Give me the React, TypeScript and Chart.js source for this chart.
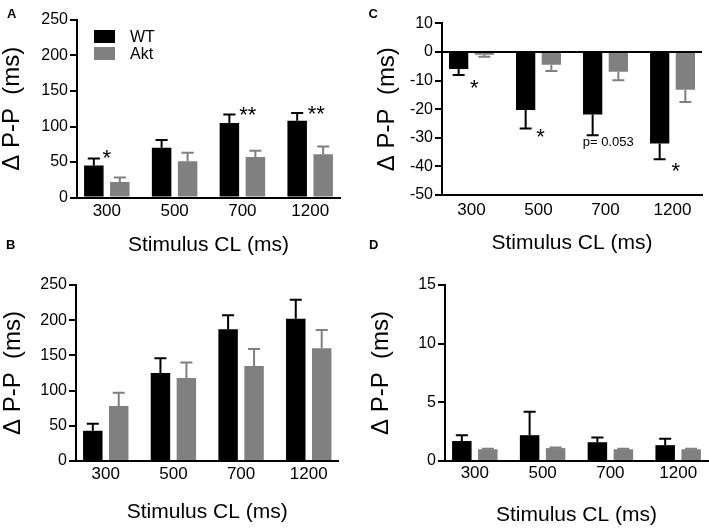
import React, { useEffect, useRef } from "react";
import { Chart, registerables } from "chart.js";

Chart.register(...registerables);

const FONT = '"Liberation Sans", Arial, Helvetica, sans-serif';
Chart.defaults.font.family = FONT;
Chart.defaults.color = "#000";

// ---------- data ----------
const categories = ["300", "500", "700", "1200"];
const seriesNames = ["WT", "Akt"];
const WT_COLOR = "#000000";
const AKT_COLOR = "#808080";
const X_TITLE = "Stimulus CL (ms)";
const Y_TITLE = "Δ P-P  (ms)";

// Panel A
const aWT = [45, 70, 105, 108];
const aWTErr = [10, 11, 12, 11];
const aAkt = [22, 51, 57, 61];
const aAktErr = [6, 12, 9, 11];
const aYTicks = [0, 50, 100, 150, 200, 250];

// Panel B
const bWT = [43, 125, 187, 202];
const bWTErr = [10, 21, 20, 27];
const bAkt = [78, 118, 135, 160];
const bAktErr = [19, 22, 24, 26];
const bYTicks = [0, 50, 100, 150, 200, 250];

// Panel C
const cWT = [-6, -20.3, -21.9, -32];
const cWTErr = [2.1, 6.5, 7.2, 5.5];
const cAkt = [-1.0, -4.5, -6.9, -13.2];
const cAktErr = [0.7, 2.2, 3.0, 4.3];
const cYTicks = [-50, -40, -30, -20, -10, 0, 10];

// Panel D
const dWT = [1.7, 2.2, 1.6, 1.35];
const dWTErr = [0.5, 2.0, 0.4, 0.55];
const dAkt = [1.0, 1.1, 1.0, 1.0];
const dAktErr = [0.05, 0.05, 0.05, 0.05];
const dYTicks = [0, 5, 10, 15];

// significance annotations (data coordinates: category index, value)
const aMarks = [
  { x: 0.0, y: 63, text: "*", star: true },
  { x: 2.08, y: 123, text: "**", star: true },
  { x: 3.09, y: 124.5, text: "**", star: true },
];
const cMarks = [
  { x: 0.04, y: -10.7, text: "*", star: true },
  { x: 1.03, y: -27.8, text: "*", star: true },
  { x: 2.04, y: -31.8, text: "p= 0.053", star: false },
  { x: 3.05, y: -39.7, text: "*", star: true },
];

const X_MIN = -0.44;
const X_MAX = 3.44;

// ---------- plugins ----------
const errorBarPlugin = {
  id: "errorBars",
  afterDatasetsDraw(chart: any) {
    const ctx = chart.ctx;
    const yScale = chart.scales.y;
    chart.data.datasets.forEach((ds: any, di: number) => {
      const errs = ds.errors;
      if (!errs) return;
      const meta = chart.getDatasetMeta(di);
      meta.data.forEach((bar: any, i: number) => {
        const v = ds.data[i].y;
        const e = errs[i];
        const end = v >= 0 ? v + e : v - e;
        const py = yScale.getPixelForValue(end);
        const { x, y, width } = bar.getProps(["x", "y", "width"], true);
        const cap = width * 0.62;
        ctx.save();
        ctx.strokeStyle = ds.backgroundColor;
        ctx.lineWidth = 2;
        ctx.beginPath();
        ctx.moveTo(x, y);
        ctx.lineTo(x, py);
        ctx.moveTo(x - cap / 2, py);
        ctx.lineTo(x + cap / 2, py);
        ctx.stroke();
        ctx.restore();
      });
    });
  },
};

function makeMarksPlugin(items: any[]) {
  return {
    id: "marks",
    afterDatasetsDraw(chart: any) {
      const ctx = chart.ctx;
      const xs = chart.scales.x;
      const ys = chart.scales.y;
      items.forEach((m) => {
        const px = xs.getPixelForValue(m.x);
        const py = ys.getPixelForValue(m.y);
        ctx.save();
        ctx.fillStyle = "#000";
        ctx.textAlign = "center";
        if (m.star) {
          const size = 22;
          ctx.font = `${size}px ${FONT}`;
          ctx.textBaseline = "alphabetic";
          ctx.fillText(m.text, px, py + size * 0.55);
        } else {
          ctx.font = `13px ${FONT}`;
          ctx.textBaseline = "middle";
          ctx.fillText(m.text, px, py);
        }
        ctx.restore();
      });
    },
  };
}

const legendPlugin = {
  id: "insideLegend",
  afterDraw(chart: any) {
    const ctx = chart.ctx;
    const { left, top } = chart.chartArea;
    chart.data.datasets.forEach((ds: any, i: number) => {
      const by = top + 10 + i * 17;
      ctx.save();
      ctx.fillStyle = ds.backgroundColor;
      ctx.fillRect(left + 17, by, 21, 13);
      ctx.fillStyle = "#000";
      ctx.font = `16px ${FONT}`;
      ctx.textAlign = "left";
      ctx.textBaseline = "middle";
      ctx.fillText(ds.label, left + 53, by + 7.5);
      ctx.restore();
    });
  },
};

// ---------- config ----------
function buildConfig(spec: any) {
  const { wt, wtErr, akt, aktErr, yTicks, area, size, yTitlePad, xTitlePad, xLabelPad, marks, legend, zeroLine } = spec;
  const toPts = (arr: number[]) => arr.map((v, i) => ({ x: i, y: v }));
  const plugins: any[] = [errorBarPlugin, makeMarksPlugin(marks || [])];
  if (legend) plugins.push(legendPlugin);
  return {
    type: "bar",
    data: {
      datasets: [
        { label: seriesNames[0], data: toPts(wt), errors: wtErr, backgroundColor: WT_COLOR, borderWidth: 0 },
        { label: seriesNames[1], data: toPts(akt), errors: aktErr, backgroundColor: AKT_COLOR, borderWidth: 0 },
      ],
    },
    options: {
      animation: false,
      responsive: false,
      maintainAspectRatio: false,
      devicePixelRatio: 1,
      layout: { padding: { left: 0, top: area.T, right: size.w - area.R, bottom: 0 } },
      datasets: { bar: { categoryPercentage: 0.767, barPercentage: 0.75 } },
      plugins: { legend: { display: false }, tooltip: { enabled: false } },
      scales: {
        x: {
          type: "linear",
          position: "bottom",
          offset: false,
          min: X_MIN,
          max: X_MAX,
          afterBuildTicks: (s: any) => {
            s.ticks = categories.map((_, i) => ({ value: i }));
          },
          afterFit: (s: any) => {
            s.height = size.h - area.B;
          },
          grid: { display: false, drawTicks: false, offset: false },
          border: { display: true, color: "#000", width: 2 },
          ticks: {
            autoSkip: false,
            maxRotation: 0,
            padding: xLabelPad,
            color: "#000",
            font: { size: 17 },
            callback: (v: any) => categories[Math.round(v)] ?? "",
          },
          title: {
            display: true,
            text: X_TITLE,
            color: "#000",
            font: { size: 21, lineHeight: 1 },
            padding: { top: 0, bottom: xTitlePad },
          },
        },
        y: {
          type: "linear",
          position: "left",
          min: yTicks[0],
          max: yTicks[yTicks.length - 1],
          afterBuildTicks: (s: any) => {
            s.ticks = yTicks.map((v: number) => ({ value: v }));
          },
          afterFit: (s: any) => {
            s.width = area.L;
          },
          grid: {
            display: true,
            drawOnChartArea: !!zeroLine,
            drawTicks: true,
            tickLength: 7,
            tickWidth: 2,
            tickColor: "#000",
            lineWidth: 2,
            color: (c: any) => (c.tick && c.tick.value === 0 ? "#000" : "rgba(0,0,0,0)"),
          },
          border: { display: true, color: "#000", width: 2 },
          ticks: { padding: 2, color: "#000", font: { size: 16 } },
          title: {
            display: true,
            text: Y_TITLE,
            color: "#000",
            font: { size: 24, lineHeight: 1 },
            padding: { top: yTitlePad, bottom: 0 },
          },
        },
      },
    },
    plugins,
  };
}

function Panel(props: any) {
  const { left, top, w, h, spec } = props;
  const ref = useRef<HTMLCanvasElement | null>(null);
  useEffect(() => {
    if (!ref.current) return;
    const chart = new Chart(ref.current, buildConfig({ ...spec, size: { w, h } }) as any);
    return () => chart.destroy();
  }, []);
  return (
    <canvas
      ref={ref}
      width={w}
      height={h}
      style={{ position: "absolute", left, top, width: w, height: h }}
    />
  );
}

const letterStyle: any = {
  position: "absolute",
  fontFamily: FONT,
  fontWeight: "bold",
  fontSize: "13px",
  lineHeight: "13px",
  color: "#000",
};

export default function App() {
  return (
    <div
      style={{
        position: "absolute",
        left: 0,
        top: 0,
        width: 709,
        height: 528,
        background: "#fff",
        overflow: "hidden",
      }}
    >
      <Panel
        left={0}
        top={0}
        w={354}
        h={264}
        spec={{
          wt: aWT, wtErr: aWTErr, akt: aAkt, aktErr: aAktErr, yTicks: aYTicks,
          area: { L: 77, R: 340, T: 20, B: 197.5 },
          yTitlePad: 0.8, xTitlePad: 7.8, xLabelPad: 3.3,
          marks: aMarks, legend: true, zeroLine: false,
        }}
      />
      <Panel
        left={354}
        top={0}
        w={355}
        h={264}
        spec={{
          wt: cWT, wtErr: cWTErr, akt: cAkt, aktErr: cAktErr, yTicks: cYTicks,
          area: { L: 88, R: 348, T: 23.3, B: 195 },
          yTitlePad: 21.8, xTitlePad: 10.3, xLabelPad: 5,
          marks: cMarks, legend: false, zeroLine: true,
        }}
      />
      <Panel
        left={0}
        top={264}
        w={354}
        h={264}
        spec={{
          wt: bWT, wtErr: bWTErr, akt: bAkt, aktErr: bAktErr, yTicks: bYTicks,
          area: { L: 76, R: 338.5, T: 21, B: 197 },
          yTitlePad: 1.8, xTitlePad: 5.3, xLabelPad: 2.8,
          marks: [], legend: false, zeroLine: false,
        }}
      />
      <Panel
        left={354}
        top={264}
        w={355}
        h={264}
        spec={{
          wt: dWT, wtErr: dWTErr, akt: dAkt, aktErr: dAktErr, yTicks: dYTicks,
          area: { L: 91, R: 354, T: 21, B: 197 },
          yTitlePad: 15.8, xTitlePad: 1.8, xLabelPad: 2,
          marks: [], legend: false, zeroLine: false,
        }}
      />
      <div style={{ ...letterStyle, left: 7, top: 6.6 }}>A</div>
      <div style={{ ...letterStyle, left: 6, top: 238.3 }}>B</div>
      <div style={{ ...letterStyle, left: 368.5, top: 6.6 }}>C</div>
      <div style={{ ...letterStyle, left: 369, top: 237.6 }}>D</div>
    </div>
  );
}
